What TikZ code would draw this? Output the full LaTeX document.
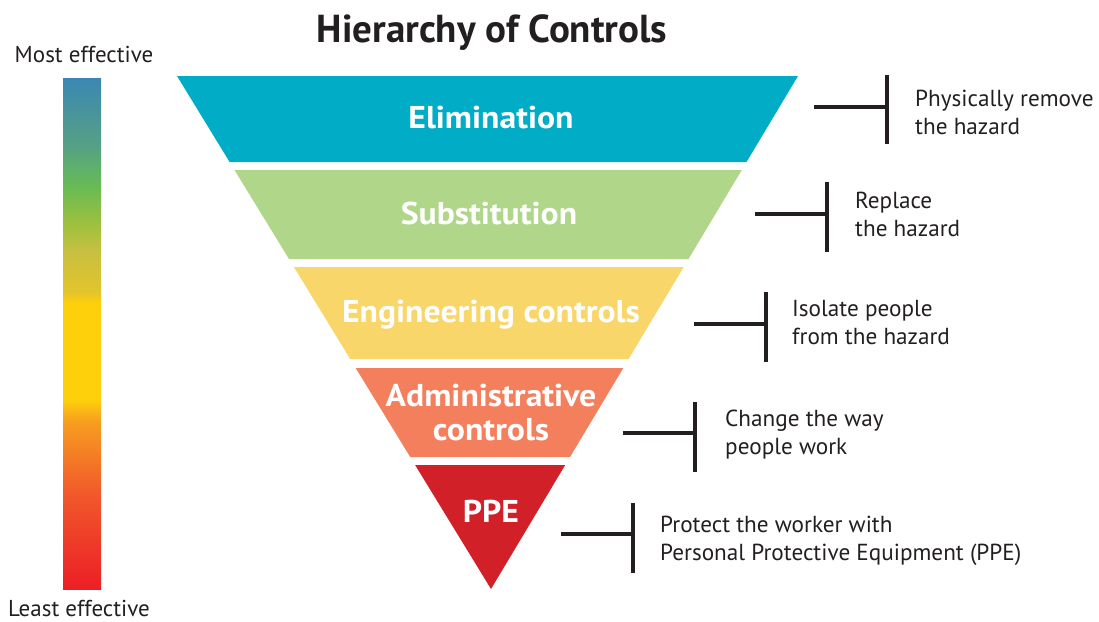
\documentclass[tikz,border=0pt]{standalone}
\usepackage{fontspec}
\setmainfont{PT Sans}
\newfontfamily\bandfont{PT Sans}[FakeStretch=1.07]
\definecolor{txt}{HTML}{231F20}
\definecolor{elimc}{HTML}{00ACC6}
\definecolor{substc}{HTML}{B0D68A}
\definecolor{engc}{HTML}{F9D66A}
\definecolor{admc}{HTML}{F47F5D}
\definecolor{ppec}{HTML}{D12028}
\definecolor{g0}{HTML}{ED1F26}
\definecolor{g1}{HTML}{EE3A28}
\definecolor{g2}{HTML}{F15A2B}
\definecolor{g3}{HTML}{F47C24}
\definecolor{g4}{HTML}{F7A020}
\definecolor{g5}{HTML}{FDD00B}
\definecolor{g6}{HTML}{E3C42C}
\definecolor{g7}{HTML}{C8C040}
\definecolor{g8}{HTML}{99C040}
\definecolor{g9}{HTML}{66BB55}
\definecolor{g10}{HTML}{55A086}
\definecolor{g11}{HTML}{3B87B3}
\pgfdeclareverticalshading{effbar}{100bp}{color(0bp)=(g0); color(25bp)=(g0); color(29.5bp)=(g1); color(34.5bp)=(g2); color(38bp)=(g3); color(41.5bp)=(g4); color(43.5bp)=(g5); color(53bp)=(g5); color(54bp)=(g6); color(58bp)=(g7); color(61bp)=(g8); color(64.5bp)=(g9); color(68.5bp)=(g10); color(75bp)=(g11); color(100bp)=(g11)}
\tikzset{
  bandlabel/.style={text=white, font=\bandfont\fontsize{31.5}{34}\selectfont\bfseries, anchor=base, inner sep=0pt, align=center},
  desc/.style={text=txt, font=\fontsize{23.2}{28.5}\selectfont, anchor=base west, inner sep=0pt, align=left},
  brk/.style={draw=txt, line width=4pt},
  sidelabel/.style={text=txt, font=\fontsize{23}{26}\selectfont, anchor=base, inner sep=0pt}
}
\begin{document}
\begin{tikzpicture}[x=1pt,y=-1pt]
\useasboundingbox (0,0) rectangle (1099,621);
% title
\node[text=txt, font=\fontsize{39}{44}\selectfont\bfseries, anchor=base, inner sep=0pt] (title) at (492,42) {Hierarchy of Controls};
% effectiveness bar
\node[shading=effbar, minimum width=38pt, minimum height=511pt, inner sep=0pt] (bar) at (82,333.5) {};
\node[sidelabel] (most) at (84,62) {Most effective};
\node[sidelabel] (least) at (79,616) {Least effective};
% bands
\fill[elimc] (177,76) -- (798,76) -- (746.5,162) -- (229.6,162) -- cycle;
\fill[substc] (234.5,170) -- (741.8,170) -- (688.5,259) -- (289.0,259) -- cycle;
\fill[engc] (293.9,267) -- (683.7,267) -- (628.6,359) -- (350.2,359) -- cycle;
\fill[admc] (355.7,368) -- (623.3,368) -- (570.0,457) -- (410.2,457) -- cycle;
\fill[ppec] (415.1,465) -- (565.2,465) -- (491,589) -- cycle;
\node[bandlabel] (elim) at (491,128) {Elimination};
\node[bandlabel] (subst) at (489,224) {Substitution};
\node[bandlabel] (eng) at (491,322.5) {Engineering controls};
\node[bandlabel] (adm) at (491,440.5) {Administrative\\controls};
\node[bandlabel] (ppe) at (491,522) {PPE};
% brackets
\coordinate (h1a) at (814,107); \coordinate (h1b) at (887,107);
\coordinate (v1a) at (887,75); \coordinate (v1b) at (887,144);
\coordinate (h2a) at (755,214); \coordinate (h2b) at (827,214);
\coordinate (v2a) at (827,182); \coordinate (v2b) at (827,252);
\coordinate (h3a) at (694,324); \coordinate (h3b) at (766,324);
\coordinate (v3a) at (766,292); \coordinate (v3b) at (766,362);
\coordinate (h4a) at (623,433); \coordinate (h4b) at (695,433);
\coordinate (v4a) at (695,402); \coordinate (v4b) at (695,472);
\coordinate (h5a) at (561,534); \coordinate (h5b) at (633,534);
\coordinate (v5a) at (633,503); \coordinate (v5b) at (633,573);
\foreach \i in {1,...,5}{
  \draw[brk] (h\i a) -- (h\i b);
  \draw[brk] (v\i a) -- (v\i b);
}
\node[desc] (d1) at (915,134.5) {Physically remove\\the hazard};
\node[desc] (d2) at (855,236.5) {Replace\\the hazard};
\node[desc] (d3) at (792,344.5) {Isolate people\\from the hazard};
\node[desc] (d4) at (725,454.5) {Change the way\\people work};
\node[desc] (d5) at (660,560.5) {Protect the worker with\\Personal Protective Equipment (PPE)};
\end{tikzpicture}
\end{document}
